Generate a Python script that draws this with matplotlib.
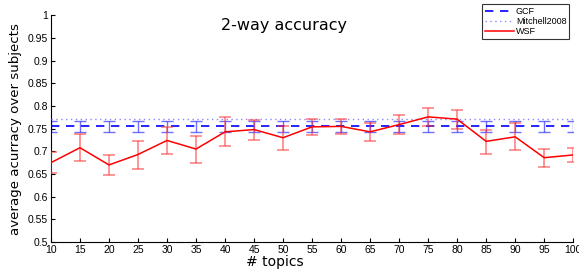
import numpy as np
import matplotlib
matplotlib.use('Agg')
import matplotlib.pyplot as plt

plt.rcParams['font.family'] = ['Liberation Sans', 'DejaVu Sans']

# data
topics = [10, 15, 20, 25, 30, 35, 40, 45, 50, 55, 60, 65, 70, 75, 80, 85, 90, 95, 100]
wsf = [0.675, 0.708, 0.670, 0.693, 0.724, 0.705, 0.743, 0.748, 0.730, 0.754,
       0.755, 0.743, 0.759, 0.776, 0.771, 0.722, 0.732, 0.686, 0.692]
wsf_hi = [0.6975, 0.738, 0.691, 0.723, 0.754, 0.734, 0.776, 0.770, 0.755, 0.771,
          0.771, 0.763, 0.780, 0.796, 0.791, 0.747, 0.763, 0.706, 0.708]
wsf_lo = [0.653, 0.679, 0.647, 0.662, 0.695, 0.675, 0.711, 0.725, 0.703, 0.736,
          0.738, 0.723, 0.738, 0.756, 0.749, 0.695, 0.704, 0.666, 0.677]
gcf_mean = 0.756
gcf_hi = 0.768
gcf_lo = 0.7425
mitchell = 0.772

x = np.array(topics)
wsf = np.array(wsf)
gcf = np.full(len(x), gcf_mean)

fig = plt.figure(figsize=(5.79, 2.69), dpi=100)
ax = fig.add_axes([0.088, 0.1004, 0.902, 0.8426])

# GCF with error bars
ax.errorbar(x, gcf, yerr=[gcf - gcf_lo, np.full(len(x), gcf_hi) - gcf],
            fmt='none', ecolor='#3333ff', elinewidth=1.0, capsize=4, capthick=1.0,
            alpha=0.7, zorder=2)
l1, = ax.plot(x, gcf, color='blue', linestyle=(0, (5, 4)), linewidth=1.2, zorder=3)

# Mitchell 2008
l2, = ax.plot(x, np.full(len(x), mitchell), color='#8888ff', linestyle=(0, (1, 2.5)),
              linewidth=1.0, zorder=3)

# WSF with error bars
ax.errorbar(x, wsf, yerr=[wsf - np.array(wsf_lo), np.array(wsf_hi) - wsf],
            fmt='none', ecolor='#ff3333', elinewidth=1.2, capsize=4, capthick=1.2,
            alpha=0.6, zorder=4)
l3, = ax.plot(x, wsf, color='red', linewidth=1.1, zorder=5)

ax.set_xlim(10, 100)
ax.set_ylim(0.5, 1.0)
ax.set_xticks(topics)
ax.set_xticklabels([str(t) for t in topics])
ax.set_yticks(np.arange(0.5, 1.001, 0.05))
ax.set_yticklabels(['0.5', '0.55', '0.6', '0.65', '0.7', '0.75', '0.8', '0.85', '0.9', '0.95', '1'])
ax.tick_params(direction='in', length=3, width=0.8, labelsize=7.5, pad=2)
ax.spines['top'].set_visible(False)
ax.spines['right'].set_visible(False)
for s in ['left', 'bottom']:
    ax.spines[s].set_linewidth(0.8)

ax.set_xlabel('# topics', fontsize=10, family='DejaVu Sans')
ax.xaxis.set_label_coords(0.429, -0.058)
ax.set_ylabel('average acurracy over subjects', fontsize=9.6, family='DejaVu Sans',
              labelpad=4)
ax.text(0.447, 0.957, '2-way accuracy', transform=ax.transAxes, ha='center', va='center',
        fontsize=11.5, family='DejaVu Sans')

leg = fig.legend([l1, l2, l3], ['GCF', 'Mitchell2008', 'WSF'],
                 loc='upper right', bbox_to_anchor=(0.983, 0.985),
                 fontsize=6.5, frameon=True, fancybox=False, handlelength=3.2,
                 borderpad=0.3, labelspacing=0.15, handletextpad=0.2, borderaxespad=0)
leg.get_frame().set_edgecolor('black')
leg.get_frame().set_linewidth(0.8)

fig.savefig('out.png', dpi=100)
